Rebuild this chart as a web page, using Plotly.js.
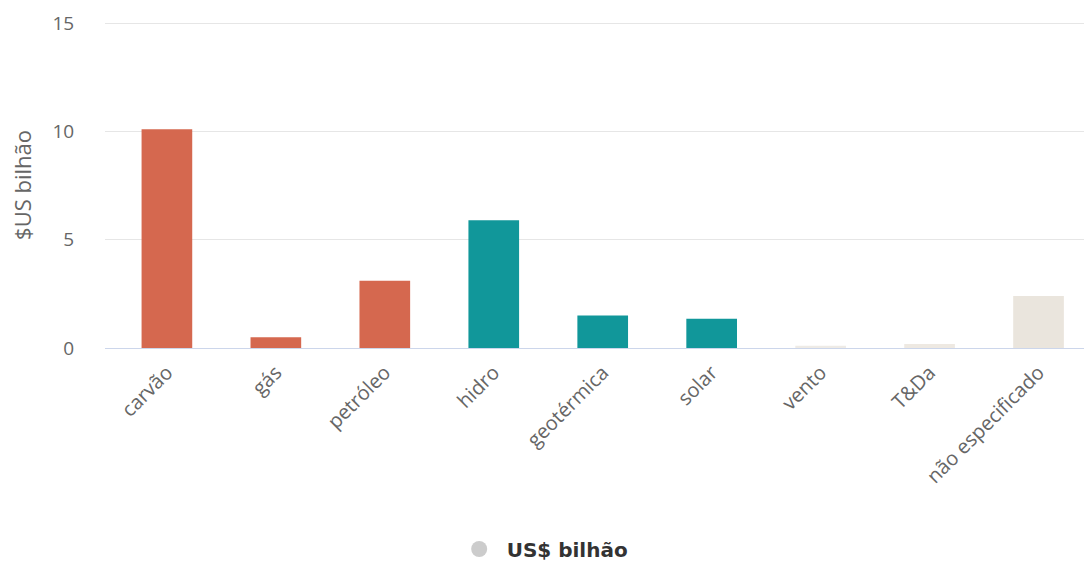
<!DOCTYPE html>
<html>
<head>
<meta charset="utf-8">
<script src="https://cdn.plot.ly/plotly-3.0.1.min.js"></script>
<style>html,body{margin:0;padding:0;background:#fff;overflow:hidden;}#chart{width:1093px;height:561px;}</style>
</head>
<body>
<div id="chart"></div>
<script>
const categories = ["carvão", "gás", "petróleo", "hidro", "geotérmica", "solar", "vento", "T&Da", "não especificado"];
const values = [10.1, 0.5, 3.1, 5.9, 1.5, 1.35, 0.1, 0.18, 2.4];
const barColors = ["#D5684F", "#D5684F", "#D5684F", "#11979A", "#11979A", "#11979A", "#EEEBE6", "#EEE9E2", "#EAE5DD"];
const seriesName = "US$ bilhão";
const yTicks = [0, 5, 10, 15];

const traces = [
  {
    type: "bar",
    x: categories,
    y: values,
    marker: {color: barColors},
    showlegend: false,
    hoverinfo: "x+y"
  },
  {
    type: "scatter",
    mode: "markers",
    x: [categories[0]],
    y: [null],
    name: seriesName,
    marker: {color: "#cccccc", size: 20, symbol: "circle"},
    showlegend: true
  }
];

const layout = {
  width: 1093,
  height: 561,
  margin: {l: 105, r: 0, t: 22, b: 213},
  paper_bgcolor: "#ffffff",
  plot_bgcolor: "#ffffff",
  bargap: 0.535,
  font: {family: "Open Sans, sans-serif", color: "#666666"},
  xaxis: {
    type: "category",
    tickangle: -45,
    tickfont: {size: 20, color: "#666666", family: "Open Sans, sans-serif"},
    showgrid: false,
    showline: false,
    ticks: "outside",
    ticklen: 4,
    tickcolor: "rgba(0,0,0,0)",
    zeroline: false,
    automargin: false
  },
  yaxis: {
    range: [0, 15.05],
    tickvals: yTicks,
    ticktext: yTicks.map(String),
    tickfont: {size: 19, color: "#666666", family: "Open Sans, sans-serif"},
    gridcolor: "#e6e6e6",
    gridwidth: 1,
    zeroline: true,
    zerolinecolor: "#ccd6eb",
    zerolinewidth: 1,
    ticks: "outside",
    ticklen: 26,
    tickcolor: "rgba(0,0,0,0)",
    automargin: false,
    title: {text: "$US bilhão", font: {size: 22, color: "#666666", family: "Open Sans, sans-serif"}, standoff: 14}
  },
  legend: {
    orientation: "h",
    xref: "container",
    yref: "container",
    x: 0.4965,
    xanchor: "center",
    y: 0.0214,
    yanchor: "middle",
    itemwidth: 45,
    font: {size: 20, color: "#333333", family: "DejaVu Sans, sans-serif", weight: "bold"}
  },
  showlegend: true
};

Plotly.newPlot("chart", traces, layout, {displayModeBar: false, staticPlot: true});
</script>
</body>
</html>
